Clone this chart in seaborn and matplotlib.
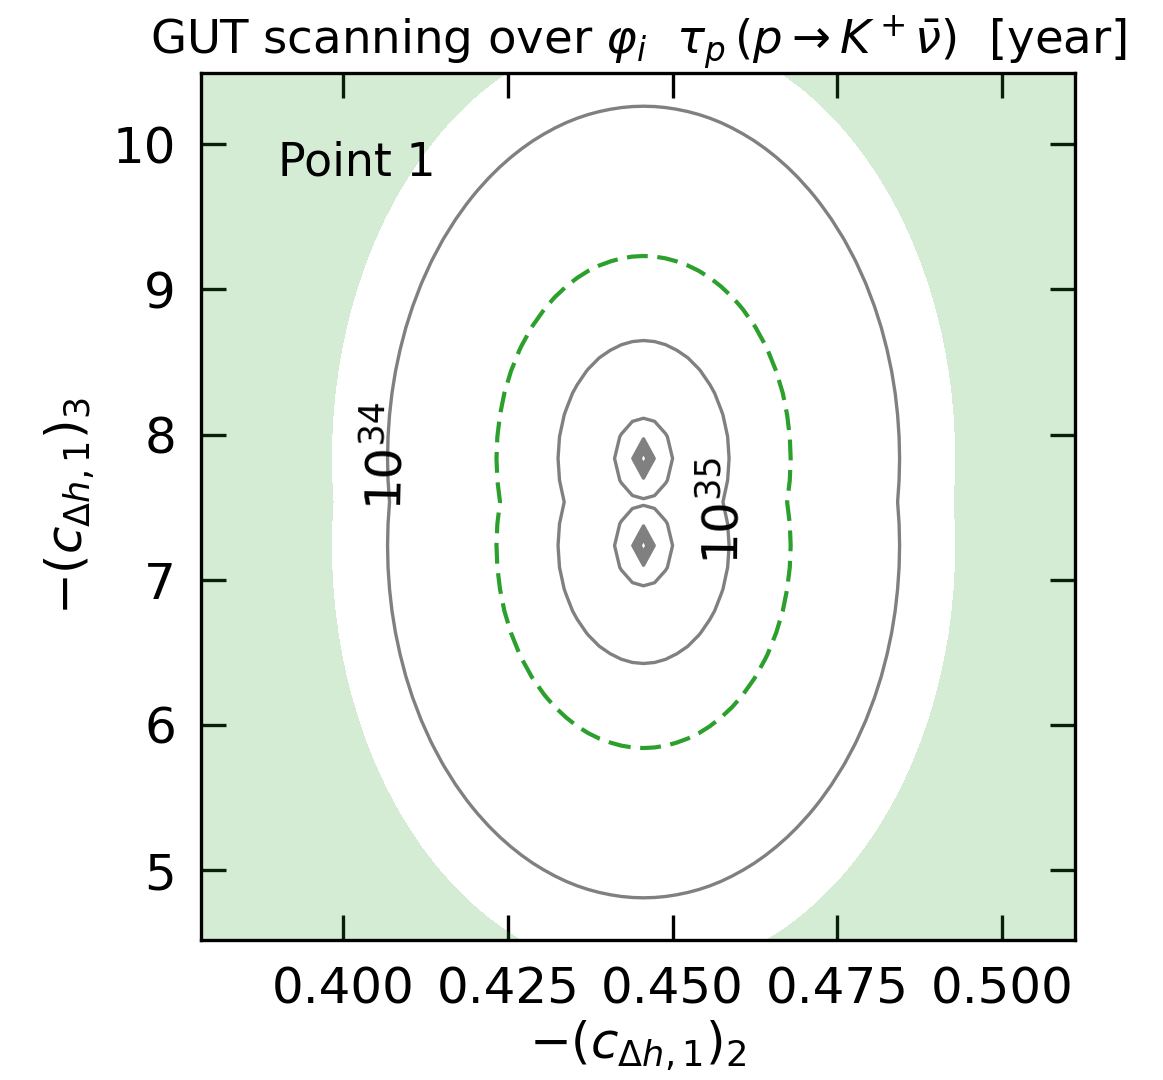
import numpy as np
import matplotlib
matplotlib.use("Agg")
import matplotlib.pyplot as plt
import seaborn as sns

# Axis window in the (-(c_Δh,1)_2, -(c_Δh,1)_3) plane
x_range = [0.3785, 0.5110]
y_range = [4.518, 10.490]

# Scan grid
x_scan = [0.3785, 0.5110, 80]
y_scan = [4.385, 10.535, 42]

# Points where the p -> K+ nu amplitude vanishes
zero_x = [0.4456, 0.4456]
zero_y = [7.835, 7.235]
x_unit = 0.0160          # x-distance equivalent to one unit in y
r_floor = 1.0e-8         # regulator at the zeros

# Lifetime normalisation: tau = tau_ref * (r / r_ref)^(-slope)
tau_ref = 1.0e35
r_ref = 0.809
slope = 2.097

# Contour levels [year]
gray_levels = [1e34, 1e35, 1e36, 1e37, 1e38, 1e39, 1e40]
labelled_levels = [1e34, 1e35]
sk_bound = 6.6e33        # Super-Kamiokande limit
hk_reach = 3.2e34        # Hyper-Kamiokande sensitivity

x_ticks = [0.400, 0.425, 0.450, 0.475, 0.500]
y_ticks = [5, 6, 7, 8, 9, 10]

# ---------------------------------------------------------------
x = np.linspace(*x_scan[:2], x_scan[2])
y = np.linspace(*y_scan[:2], y_scan[2])
X, Y = np.meshgrid(x, y)
dist = np.min([np.hypot((X - zx) / x_unit, Y - zy)
               for zx, zy in zip(zero_x, zero_y)], axis=0)
log_tau = np.log10(tau_ref) - slope * np.log10(np.maximum(dist, r_floor) / r_ref)

sns.set_style("ticks")
plt.rcParams["font.family"] = ["DejaVu Sans"]
plt.rcParams["mathtext.fontset"] = "dejavusans"
for key in ["text.color", "axes.labelcolor", "xtick.color", "ytick.color",
            "axes.edgecolor"]:
    plt.rcParams[key] = "black"

green = "#2ca02c"
fig = plt.figure(figsize=(5.815, 5.4), dpi=200)
ax = fig.add_axes([0.1728, 0.1296, 0.7515, 0.8028])

# excluded region (tau below the Super-K limit)
ax.contourf(X, Y, log_tau, levels=[log_tau.min() - 1, np.log10(sk_bound)],
            colors=[green], alpha=0.2)

cs = ax.contour(X, Y, log_tau, levels=np.log10(gray_levels),
                colors="gray", linewidths=1.2)
ax.contour(X, Y, log_tau, levels=[np.log10(hk_reach)], colors=[green],
           linewidths=1.5, linestyles=[(0, (5, 2.3))])

fmt = {np.log10(v): r"$10^{%d}$" % round(np.log10(v)) for v in gray_levels}
ax.clabel(cs, levels=np.log10(labelled_levels), fmt=fmt, inline=False,
          fontsize=18, colors="black",
          manual=[(0.4067, 7.85), (0.4556, 7.45)])

ax.text(0.088, 0.882, "Point 1", transform=ax.transAxes, fontsize=16.5,
        ha="left", va="baseline", color="black")

ax.set_xlim(x_range)
ax.set_ylim(y_range)
ax.set_xticks(x_ticks)
ax.set_xticklabels([f"{t:.3f}" for t in x_ticks])
ax.set_yticks(y_ticks)
ax.tick_params(direction="in", top=True, right=True, length=9, width=1.2,
               labelsize=18, pad=9, colors="black")
for s in ax.spines.values():
    s.set_linewidth(1.2)
    s.set_color("black")

ax.set_xlabel(r"$-(c_{\Delta h,1})_2$", fontsize=18, labelpad=2)
ax.set_ylabel(r"$-(c_{\Delta h,1})_3$", fontsize=18, labelpad=6)
ax.set_title(r"GUT scanning over $\varphi_i$  $\tau_p\,(p\rightarrow K^+\bar{\nu})$  [year]",
             fontsize=16.8, pad=7)

fig.savefig("out.png", dpi=200)
